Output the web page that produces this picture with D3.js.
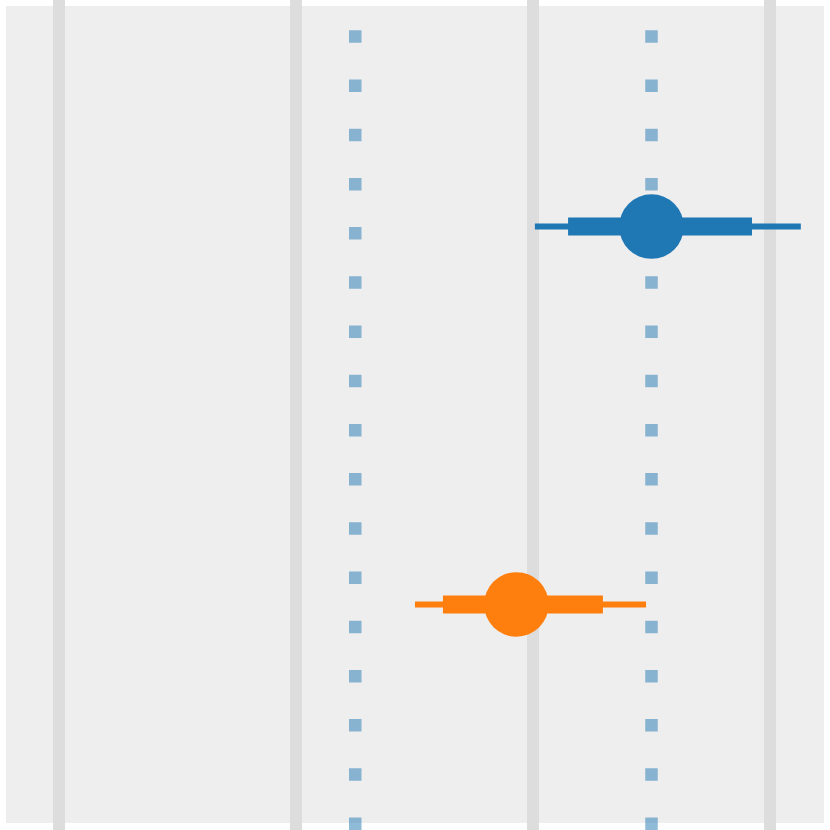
<!DOCTYPE html>
<html><head><meta charset="utf-8">
<script src="https://cdn.jsdelivr.net/npm/d3@7"></script>
<style>html,body{margin:0;padding:0;background:#fff;}svg{display:block;}</style>
</head><body>
<svg id="chart" width="830" height="830"></svg>
<script>
const categories = ["A", "B"];
const estimates = [2.5, 1.93];
const innerLow = [2.148, 1.62];
const innerHigh = [2.924, 2.295];
const outerLow = [2.008, 1.502];
const outerHigh = [3.13, 2.477];
const colors = ["#1f77b4", "#ff7f0e"];
const gridTicks = [0, 1, 2, 3];
const refLines = [1.25, 2.5];

const svg = d3.select("#chart");
const W = 830, H = 830;
const plot = {left: 6, right: 824, top: 6, bottom: 823};

const x = d3.scaleLinear().domain([-0.2236, 3.2278]).range([plot.left, plot.right]);
const y = d3.scalePoint().domain(categories).range([plot.top + 1, plot.bottom + 1]).padding(0.581);

svg.append("rect").attr("x", plot.left).attr("y", plot.top)
  .attr("width", plot.right - plot.left).attr("height", plot.bottom - plot.top)
  .attr("fill", "#eeeeee");

svg.append("g").selectAll("line").data(gridTicks).join("line")
  .attr("x1", d => x(d)).attr("x2", d => x(d))
  .attr("y1", 0).attr("y2", H)
  .attr("stroke", "#dddddd").attr("stroke-width", 12);

svg.append("g").selectAll("line").data(refLines).join("line")
  .attr("x1", d => x(d)).attr("x2", d => x(d))
  .attr("y1", 0).attr("y2", H)
  .attr("stroke", "#1f77b4").attr("stroke-opacity", 0.5)
  .attr("stroke-width", 12.5)
  .attr("stroke-dasharray", "12.5 36.7")
  .attr("stroke-dashoffset", 18.9);

const rows = categories.map((c, i) => ({c, est: estimates[i], il: innerLow[i], ih: innerHigh[i], ol: outerLow[i], oh: outerHigh[i], col: colors[i]}));

const g = svg.append("g").selectAll("g").data(rows).join("g");
g.append("line")
  .attr("x1", d => x(d.ol)).attr("x2", d => x(d.oh))
  .attr("y1", d => y(d.c)).attr("y2", d => y(d.c))
  .attr("stroke", d => d.col).attr("stroke-width", 6);
g.append("line")
  .attr("x1", d => x(d.il)).attr("x2", d => x(d.ih))
  .attr("y1", d => y(d.c)).attr("y2", d => y(d.c))
  .attr("stroke", d => d.col).attr("stroke-width", 18);
g.append("circle")
  .attr("cx", d => x(d.est)).attr("cy", d => y(d.c))
  .attr("r", 32.3).attr("fill", d => d.col);
</script>
</body></html>
